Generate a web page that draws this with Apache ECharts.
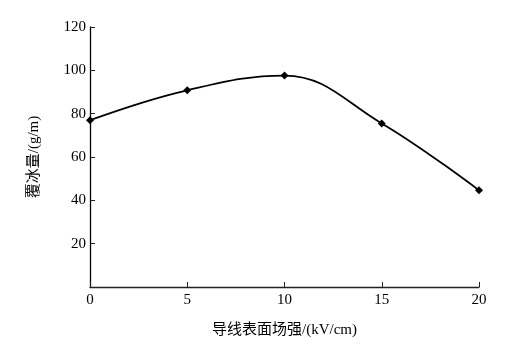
<!DOCTYPE html>
<html><head><meta charset="utf-8">
<script src="https://cdn.jsdelivr.net/npm/echarts@6/dist/echarts.min.js"></script>
<style>html,body{margin:0;padding:0;background:#fff}#c{width:525px;height:355px}</style>
</head><body><div id="c"></div>
<script>
const fieldStrength = [0, 5, 10, 15, 20];
const iceMass = [77, 90.8, 97.6, 75.5, 44.6];
const xTicks = [0, 5, 10, 15, 20];
const yTicks = [20, 40, 60, 80, 100, 120];
const xName = '导线表面场强/(kV/cm)';
const yName = '覆冰量/(g/m)';

const font = '"Liberation Serif","Times New Roman","Noto Sans CJK SC",serif';
const chart = echarts.init(document.getElementById('c'));
chart.setOption({
  animation: false,
  grid: { left: 90, right: 46, top: 27, bottom: 68 },
  xAxis: {
    type: 'value', min: 0, max: 20, interval: 5,
    name: xName, nameLocation: 'middle', nameGap: 36,
    nameTextStyle: { fontFamily: font, fontSize: 15, color: '#000' },
    axisLine: { show: true, lineStyle: { color: '#222', width: 1.3 } },
    axisTick: { show: true, inside: true, length: 5, lineStyle: { color: '#222' } },
    axisLabel: { fontFamily: font, fontSize: 15, color: '#000', margin: 6,
      formatter: v => xTicks.includes(v) ? String(v) : '' },
    splitLine: { show: false }
  },
  yAxis: {
    type: 'value', min: 0, max: 120, interval: 20,
    name: yName, nameLocation: 'middle', nameGap: 48,
    nameTextStyle: { fontFamily: font, fontSize: 15, color: '#000' },
    axisLine: { show: true, lineStyle: { color: '#000', width: 1.3 } },
    axisTick: { show: true, inside: true, length: 5, lineStyle: { color: '#222' } },
    axisLabel: { fontFamily: font, fontSize: 15, color: '#000', margin: 4,
      formatter: v => yTicks.includes(v) ? String(v) : '' },
    splitLine: { show: false }
  },
  series: [{
    type: 'line',
    data: fieldStrength.map((x, i) => [x, iceMass[i]]),
    smooth: 0.4,
    symbol: 'diamond', symbolSize: 8,
    itemStyle: { color: '#000' },
    lineStyle: { color: '#000', width: 1.8 }
  }]
});
</script></body></html>
